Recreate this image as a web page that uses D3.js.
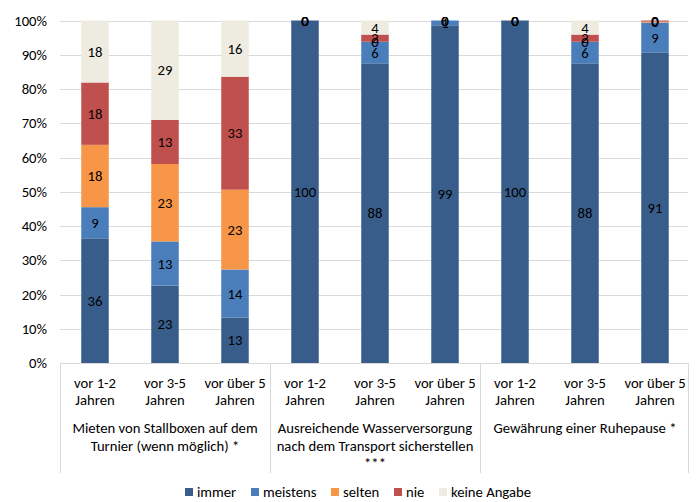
<!DOCTYPE html>
<html>
<head>
<meta charset="utf-8">
<script src="https://cdn.jsdelivr.net/npm/d3@7"></script>
<style>
  html, body { margin: 0; padding: 0; background: #fff; }
  svg { display: block; font-family: Carlito, "Liberation Sans", Arial, sans-serif; }
</style>
</head>
<body>
<svg id="chart" width="697" height="502"></svg>
<script>
// ---- data ----
const groupLabels = [
  ["Mieten von Stallboxen auf dem", "Turnier (wenn möglich) *"],
  ["Ausreichende Wasserversorgung", "nach dem Transport sicherstellen", "***"],
  ["Gewährung einer Ruhepause *"]
];
const periods = [["vor 1-2", "Jahren"], ["vor 3-5", "Jahren"], ["vor über 5", "Jahren"]];
const seriesNames = ["immer", "meistens", "selten", "nie", "keine Angabe"];
const immer    = [36.4, 22.6, 13.3, 100, 87.5, 98.6, 100, 87.5, 90.7];
const meistens = [9.1, 12.9, 14.0, 0, 6.3, 1.4, 0, 6.3, 8.7];
const selten   = [18.2, 22.6, 23.3, 0, 0, 0, 0, 0, 0.3];
const nie      = [18.2, 12.9, 33.0, 0, 2.1, 0, 0, 2.1, 0.3];
const keine    = [18.1, 29.0, 16.4, 0, 4.1, 0, 0, 4.1, 0];
const yTicks = [0, 10, 20, 30, 40, 50, 60, 70, 80, 90, 100];
const colors = ["#385d8a", "#4a7ebb", "#f79646", "#c0504d", "#eeece1"];

// ---- build table ----
const seriesValues = [immer, meistens, selten, nie, keine];
const barKeys = [];
groupLabels.forEach((g, gi) => periods.forEach((p, pi) => barKeys.push(gi + "-" + pi)));
const table = barKeys.map((k, i) => {
  const row = { key: k };
  seriesNames.forEach((s, si) => row[s] = seriesValues[si][i]);
  return row;
});
const stacked = d3.stack().keys(seriesNames)(table);

// ---- layout ----
const svg = d3.select("#chart");
const fs = 14.67;
const plotLeft = 60, plotRight = 688, plotTop = 20.5, plotBottom = 363;
const x = d3.scaleBand().domain(barKeys).range([plotLeft, plotLeft + 630]).paddingInner(0.607).paddingOuter(0.3035);
const y = d3.scaleLinear().domain([0, 100]).range([plotBottom, plotTop]);

// gridlines
svg.append("g").selectAll("line").data(yTicks.filter(t => t > 0)).join("line")
  .attr("x1", plotLeft).attr("x2", plotRight)
  .attr("y1", d => Math.round(y(d)) + 0.5).attr("y2", d => Math.round(y(d)) + 0.5)
  .attr("stroke", "#d9d9d9").attr("stroke-width", 1);

// y axis labels
const yAxis = d3.axisLeft(y).tickValues(yTicks).tickFormat(d => d + "%").tickSize(0).tickPadding(13);
const yg = svg.append("g").attr("transform", `translate(${plotLeft},0)`).call(yAxis);
yg.select(".domain").remove();
yg.attr("font-family", null).attr("font-size", null);
yg.selectAll("text").attr("font-size", fs).attr("fill", "#000");

// bars
const layers = svg.append("g").selectAll("g").data(stacked).join("g")
  .attr("fill", (d, i) => colors[i]);
layers.selectAll("rect").data(d => d).join("rect")
  .attr("x", d => x(d.data.key))
  .attr("width", x.bandwidth())
  .attr("y", d => y(d[1]))
  .attr("height", d => y(d[0]) - y(d[1]));

// data labels
const labels = svg.append("g").attr("font-size", fs).attr("fill", "#000").attr("text-anchor", "middle");
stacked.forEach(layer => {
  layer.forEach(d => {
    labels.append("text")
      .attr("x", x(d.data.key) + x.bandwidth() / 2)
      .attr("y", y((d[0] + d[1]) / 2))
      .attr("dy", "0.35em")
      .text(Math.round(d[1] - d[0]));
  });
});

// category axis lines
const axis = svg.append("g").attr("stroke", "#d9d9d9").attr("stroke-width", 1);
axis.append("line").attr("x1", plotLeft).attr("x2", plotRight).attr("y1", plotBottom + 0.5).attr("y2", plotBottom + 0.5);
const groupW = 630 / groupLabels.length;
const dividers = d3.range(groupLabels.length + 1).map(i => i === groupLabels.length ? plotRight : plotLeft + i * groupW);
axis.selectAll(".div").data(dividers).join("line")
  .attr("x1", d => Math.round(d) + 0.5).attr("x2", d => Math.round(d) + 0.5)
  .attr("y1", plotBottom).attr("y2", 473);

// period labels
const catText = svg.append("g").attr("font-size", fs).attr("fill", "#000").attr("text-anchor", "middle");
barKeys.forEach((k, i) => {
  const p = periods[i % periods.length];
  const t = catText.append("text");
  p.forEach((line, li) => t.append("tspan").attr("x", x(k) + x.bandwidth() / 2).attr("y", 383 + li * 17).attr("dy", "0.35em").text(line));
});

// group labels
groupLabels.forEach((lines, gi) => {
  const cx = plotLeft + gi * groupW + groupW / 2;
  const t = catText.append("text");
  lines.forEach((line, li) => t.append("tspan").attr("x", cx).attr("y", 428 + li * 17.5).attr("dy", "0.35em").text(line));
});

// legend
const legendX = [185, 251, 331, 394, 439];
const lg = svg.append("g").attr("font-size", fs).attr("fill", "#000");
seriesNames.forEach((s, i) => {
  lg.append("rect").attr("x", legendX[i]).attr("y", 488).attr("width", 8).attr("height", 8).attr("fill", colors[i]);
  lg.append("text").attr("x", legendX[i] + 12).attr("y", 492).attr("dy", "0.35em").text(s);
});
</script>
</body>
</html>
